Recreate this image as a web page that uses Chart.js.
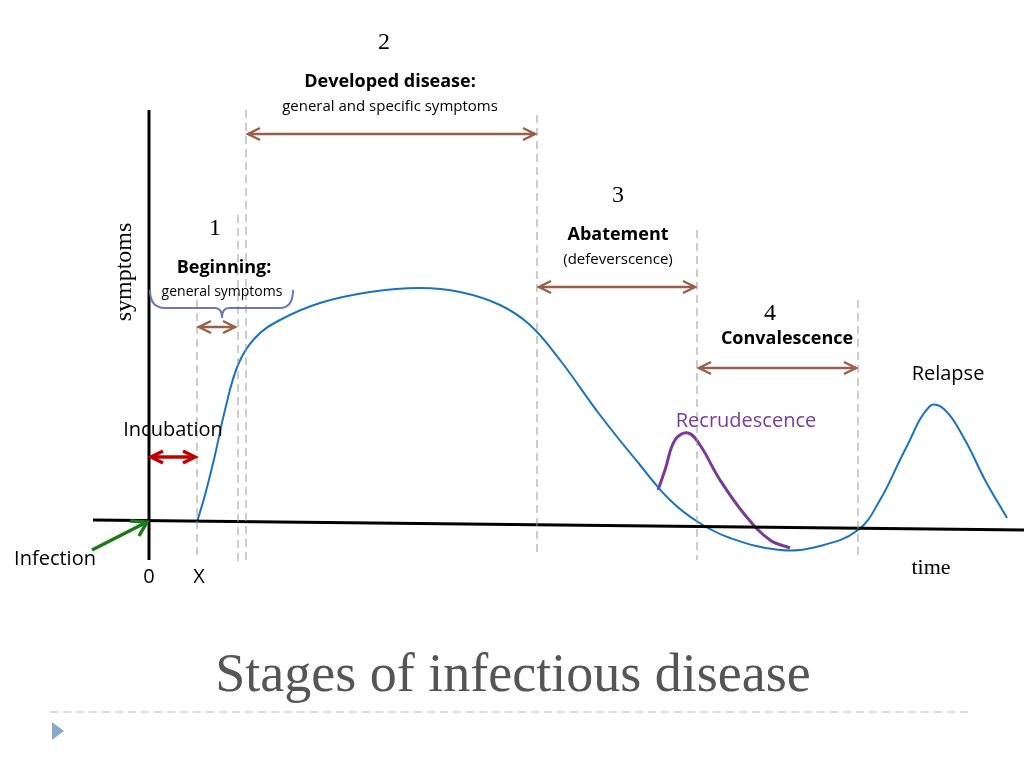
<!DOCTYPE html>
<html><head><meta charset="utf-8">
<script src="https://cdn.jsdelivr.net/npm/chart.js@4/dist/chart.umd.min.js"></script>
<style>html,body{margin:0;background:#fff}#wrap{width:1024px;height:768px}</style>
</head><body><div id="wrap"><canvas id="c"></canvas></div>
<script>
// x = time units, y = symptom level above baseline
const mainX = [197,205,215,225,238,255,280,320,370,420,460,500,530,560,600,640,670,698,730,780,820,858,880,905,930,945,965,985,1007];
const mainY = [-2,25,65,110,155,182,200,217,228,232,228,215,195,160,105,55,20,-2,-18,-30,-26,-10,20,70,114,110,80,40,2];
const recX = [658,665,675,688,700,720,745,770,790];
const recY = [30,50,80,87,75,40,5,-20,-28];
const stageLines = [[197,220,-40],[238,305,-45],[246,410,-40],[537,405,-35],[697,290,-40],[858,220,-40]];
const arrows = [[246,537,386,"#9a5f4a"],[537,697,233,"#9a5f4a"],[697,858,152,"#9a5f4a"],[197,237,193,"#9a5f4a"],[149,197,63,"#c00000"]];

const ann = {
  id: "ann",
  afterDraw(ch) {
    const c = ch.ctx, X = v => ch.scales.x.getPixelForValue(v), Y = v => ch.scales.y.getPixelForValue(v);
    c.save();
    // axes
    c.strokeStyle = "#000"; c.lineWidth = 3;
    c.beginPath(); c.moveTo(X(149), Y(410)); c.lineTo(X(149), Y(-40)); c.stroke();
    c.beginPath(); c.moveTo(X(93), Y(0)); c.lineTo(X(1024), Y(-10)); c.stroke();
    // dashed stage lines
    c.strokeStyle = "#999"; c.lineWidth = 1; c.setLineDash([8, 5]);
    stageLines.forEach(([x, a, b]) => { c.beginPath(); c.moveTo(X(x), Y(a)); c.lineTo(X(x), Y(b)); c.stroke(); });
    c.beginPath(); c.moveTo(50, 712); c.lineTo(970, 712); c.strokeStyle = "#bbb"; c.stroke();
    c.setLineDash([]);
    // arrows
    const head = (x, y, d) => { c.beginPath(); c.moveTo(x + d * 12, y - 6); c.lineTo(x, y); c.lineTo(x + d * 12, y + 6); c.stroke(); };
    arrows.forEach(([a, b, y, col]) => {
      c.strokeStyle = col; c.lineWidth = col === "#c00000" ? 3.5 : 2.5;
      const py = Y(y), pa = X(a) + 2, pb = X(b) - 2;
      c.beginPath(); c.moveTo(pa, py); c.lineTo(pb, py); c.stroke();
      head(pa, py, 1); head(pb, py, -1);
    });
    // green infection arrow
    c.strokeStyle = "#1a7a1a"; c.lineWidth = 3.5;
    c.beginPath(); c.moveTo(92, 550); c.lineTo(145, 523); c.stroke();
    c.beginPath(); c.moveTo(130, 521); c.lineTo(147, 522); c.lineTo(139, 536); c.stroke();
    // brace
    c.strokeStyle = "#6a7ab0"; c.lineWidth = 2;
    c.beginPath(); c.moveTo(150, 290); c.quadraticCurveTo(150, 308, 165, 308); c.lineTo(215, 308);
    c.quadraticCurveTo(222, 308, 222, 318); c.quadraticCurveTo(222, 308, 229, 308); c.lineTo(280, 308);
    c.quadraticCurveTo(293, 308, 293, 290); c.stroke();
    // triangle bullet
    c.fillStyle = "#8aa8c8"; c.beginPath(); c.moveTo(52, 722); c.lineTo(64, 731); c.lineTo(52, 740); c.fill();
    // texts
    c.textAlign = "center"; c.textBaseline = "middle";
    const t = (s, x, y, f, col) => { c.font = f; c.fillStyle = col || "#000"; c.fillText(s, x, y); };
    const serif = "'Liberation Serif', serif", sans = "'Open Sans', 'DejaVu Sans', sans-serif";
    t("2", 384, 43, "24px " + serif);
    t("Developed disease:", 390, 82, "bold 18px " + sans);
    t("general and specific symptoms", 390, 107, "15px " + sans);
    t("3", 618, 196, "24px " + serif);
    t("Abatement", 618, 235, "bold 18px " + sans);
    t("(defeverscence)", 618, 260, "15px " + sans);
    t("1", 215, 229, "24px " + serif);
    t("Beginning:", 224, 268, "bold 18px " + sans);
    t("general symptoms", 222, 292, "14px " + sans);
    t("4", 770, 314, "24px " + serif);
    t("Convalescence", 787, 339, "bold 18px " + sans);
    t("Relapse", 948, 374, "20px " + sans);
    t("Recrudescence", 746, 421, "20px " + sans, "#7a3a9a");
    t("Incubation", 173, 430, "20px " + sans);
    t("Infection", 55, 559, "20px " + sans);
    t("0", 149, 577, "20px " + sans);
    t("X", 199, 577, "20px " + sans);
    t("time", 931, 568, "22px " + serif);
    t("Stages of infectious disease", 513, 677, "54px " + serif, "#555");
    c.save(); c.translate(125, 272); c.rotate(-Math.PI / 2); t("symptoms", 0, 0, "24px " + serif); c.restore();
    c.restore();
  }
};

new Chart(document.getElementById("c"), {
  type: "line",
  data: { datasets: [
    { data: mainX.map((x, i) => ({ x, y: mainY[i] })), borderColor: "#1a73c0", borderWidth: 2, tension: 0.4, pointRadius: 0 },
    { data: recX.map((x, i) => ({ x, y: recY[i] })), borderColor: "#7a3a9a", borderWidth: 3, tension: 0.4, pointRadius: 0 }
  ]},
  options: {
    responsive: true, maintainAspectRatio: false, animation: false,
    layout: { padding: 0 },
    plugins: { legend: { display: false }, tooltip: { enabled: false } },
    scales: {
      x: { type: "linear", min: 0, max: 1024, display: false },
      y: { type: "linear", min: -248, max: 520, display: false }
    }
  },
  plugins: [ann]
});
</script></body></html>
